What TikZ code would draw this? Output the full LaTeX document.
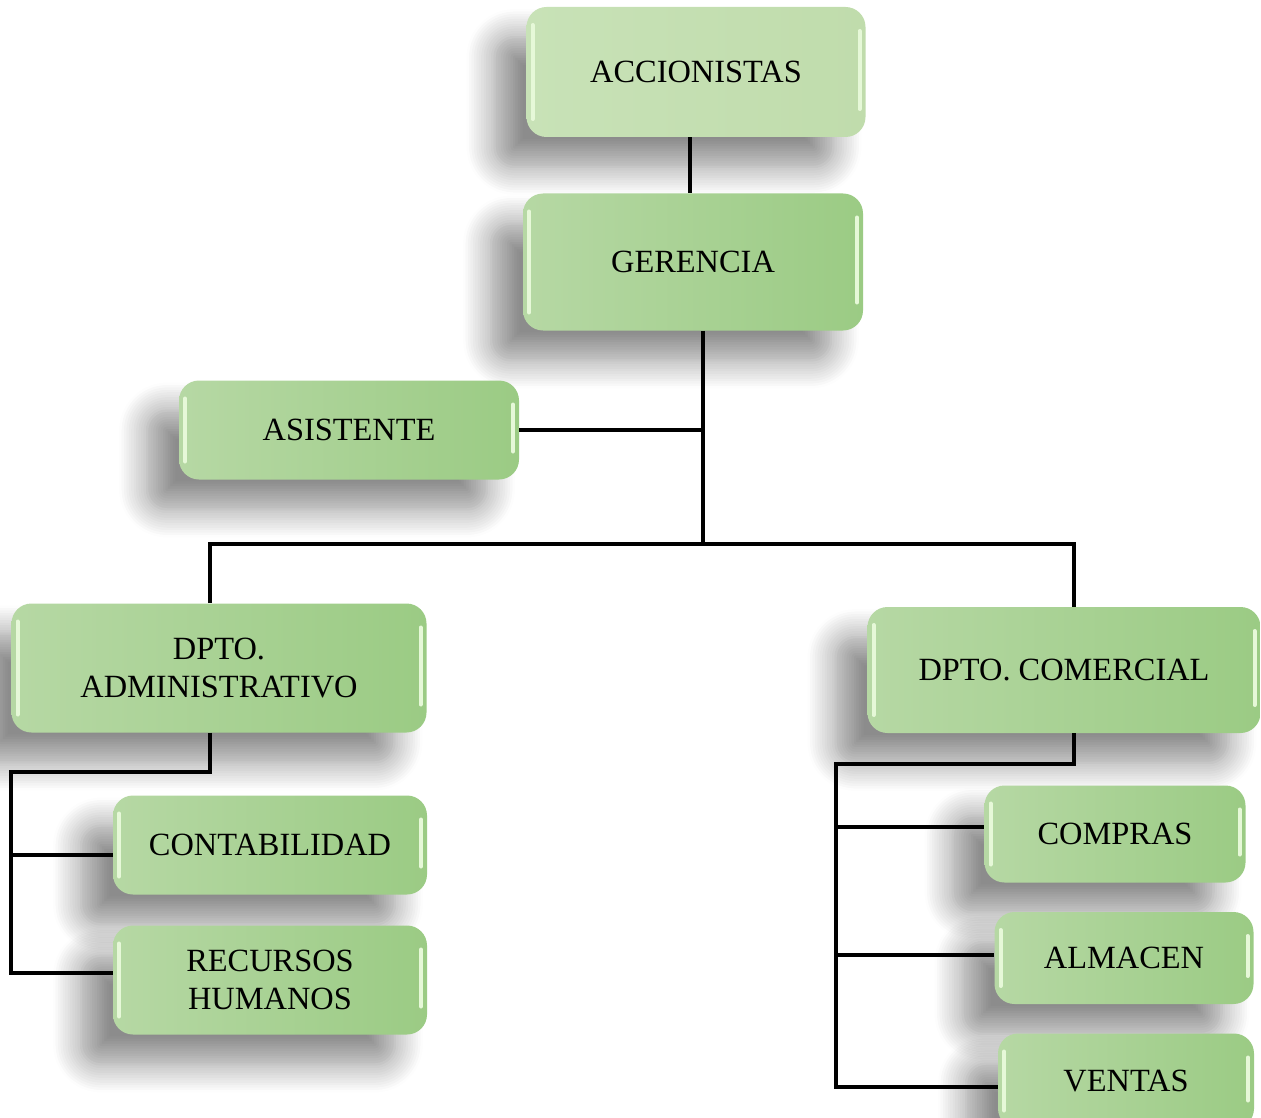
\documentclass[tikz,border=0pt]{standalone}
\usepackage{fontspec}
\setmainfont{Liberation Serif}
\usepackage{tikz}
\usetikzlibrary{positioning, calc, shadows.blur}
\definecolor{boxlight}{HTML}{B6D8A4}
\definecolor{boxdark}{HTML}{9BCB84}
\definecolor{toplight}{HTML}{C8E2B7}
\definecolor{topdark}{HTML}{C0DCAC}
\definecolor{gloss}{HTML}{E6F8D8}

\begin{document}
\begin{tikzpicture}[x=0.5pt, y=-0.5pt, every node/.style={align=center, font=\fontsize{16.2}{19}\selectfont}]
  \tikzset{box/.style={rounded corners=10pt, left color=boxlight, right color=boxdark, draw=none,
      blur shadow={shadow xshift=-16pt, shadow yshift=-15pt, shadow blur radius=14pt, shadow blur steps=12, shadow opacity=45},
      path picture={
        \draw[gloss, line width=2pt, line cap=round]
          ([xshift=3pt, yshift=-9pt]path picture bounding box.north west) -- ([xshift=3pt, yshift=9pt]path picture bounding box.south west);
        \draw[gloss, line width=2pt, line cap=round]
          ([xshift=-3pt, yshift=-12pt]path picture bounding box.north east) -- ([xshift=-3pt, yshift=14pt]path picture bounding box.south east);
      }},
    link/.style={draw=black, line width=1.8pt}}
  \useasboundingbox (0,0) rectangle (1261,1117);

  % nodes
  \node[box, left color=toplight, right color=topdark, minimum width=169.5pt, minimum height=65pt] (acc) at (696,72) {ACCIONISTAS};
  \node[box, minimum width=170pt, minimum height=68.5pt] (ger) at (693,262) {GERENCIA};
  \node[box, minimum width=170pt, minimum height=49.5pt] (asi) at (349,430) {ASISTENTE};
  \node[box, minimum width=207.5pt, minimum height=64.5pt] (adm) at (219,668) {DPTO.\\ADMINISTRATIVO};
  \node[box, minimum width=196.5pt, minimum height=63pt] (com) at (1064,670) {DPTO. COMERCIAL};
  \node[box, minimum width=157pt, minimum height=49.5pt] (cont) at (270,845) {CONTABILIDAD};
  \node[box, minimum width=157pt, minimum height=54.5pt] (rrhh) at (270,980) {RECURSOS\\HUMANOS};
  \node[box, minimum width=130.5pt, minimum height=48.5pt] (comp) at (1115,834) {COMPRAS};
  \node[box, minimum width=129.5pt, minimum height=46pt] (alm) at (1124,958) {ALMACEN};
  \node[box, minimum width=128pt, minimum height=47.5pt] (ven) at (1126,1081) {VENTAS};

  % connectors
  \coordinate (v1) at (690,0);
  \coordinate (j1) at (703,544);
  \coordinate (ab) at (11,772);
  \coordinate (cb) at (836,764);
  \draw[link] (acc.south -| v1) -- (ger.north -| v1);
  \draw[link] (ger.south -| j1) -- (j1);
  \draw[link] (asi.east) -- (asi.east -| j1);
  \draw[link] ([xshift=-4.5pt]adm.north) |- (j1) -| ([xshift=5pt]com.north);
  \draw[link] ([xshift=-4.5pt]adm.south) |- (ab) |- ([yshift=3.5pt]rrhh.west);
  \draw[link] ([yshift=-5pt]ab |- cont.west) -- ([yshift=-5pt]cont.west);
  \draw[link] ([xshift=5pt]com.south) |- (cb) |- ([yshift=-3pt]ven.west);
  \draw[link] ([yshift=3.5pt]cb |- comp.west) -- ([yshift=3.5pt]comp.west);
  \draw[link] ([yshift=1.5pt]cb |- alm.west) -- ([yshift=1.5pt]alm.west);
\end{tikzpicture}
\end{document}
